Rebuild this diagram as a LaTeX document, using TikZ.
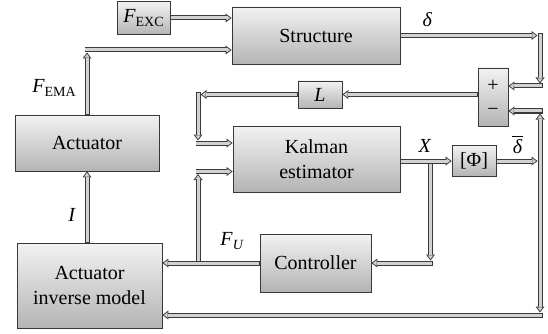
\documentclass[tikz,border=0pt]{standalone}
\usepackage{fontspec}
\setmainfont{Liberation Serif}
\usetikzlibrary{arrows.meta}
\definecolor{boxtop}{HTML}{F2F2F2}
\definecolor{boxbot}{HTML}{B4B4B4}
\definecolor{boxline}{HTML}{383838}
\definecolor{arrdark}{HTML}{3A3A3A}
\definecolor{arrlight}{HTML}{D2D2D2}
\newcommand\lowsub[1]{\raisebox{-0.4ex}{\fontsize{14}{14}\selectfont #1}}
\newcommand\barred[1]{\setbox0\hbox{#1}\rlap{\hspace{-1pt}\raisebox{\dimexpr\ht0+2.5pt\relax}{\rule{\dimexpr\wd0+2pt\relax}{1.1pt}}}\box0}
\tikzset{
  blk/.style={draw=boxline, line width=0.8pt, top color=boxtop, bottom color=boxbot,
    inner sep=0pt, align=center, font=\fontsize{20}{25}\selectfont},
  lbl/.style={inner sep=0pt, font=\fontsize{20}{25}\selectfont},
  conn/.style n args={2}{line width=5pt, draw=arrdark,
    -{Triangle[length=6pt,width=9pt,line width=0pt]}, shorten >=#1, shorten <=#2,
    postaction={draw=arrlight, line width=3pt,
      -{Triangle[length=3.6pt,width=5.4pt,line width=0pt]},
      shorten >=#1+1.5pt, shorten <=#2+0.9pt}},
  link/.style={conn={0pt}{0pt}},
  tocorner/.style={conn={2.5pt}{0pt}},
  fromcorner/.style={conn={0pt}{-2.5pt}},
  via/.style={conn={2.5pt}{-2.5pt}},
  seg/.style={line width=5pt, draw=arrdark, postaction={draw=arrlight, line width=3pt}},
}
\begin{document}
\begin{tikzpicture}[x=1pt,y=-1pt]
\useasboundingbox (0,0) rectangle (548,334);
% blocks
\node[blk, minimum width=53pt, minimum height=33pt] (fexc) at (143.5,18) {\textit{F}\lowsub{EXC}};
\node[blk, minimum width=168pt, minimum height=57pt] (structure) at (316,35.5) {Structure};
\node[blk, minimum width=144pt, minimum height=56pt] (actuator) at (87,143) {Actuator};
\node[blk, minimum width=145pt, minimum height=85pt] (inv) at (89.5,285.5) {Actuator\\inverse model};
\node[blk, minimum width=111pt, minimum height=58pt] (controller) at (315.5,263) {Controller};
\node[blk, minimum width=167pt, minimum height=66pt] (kalman) at (316.5,159) {Kalman\\estimator};
\node[blk, minimum width=44pt, minimum height=27pt] (L) at (320,94.5) {\textit{L}};
\node[blk, minimum width=30pt, minimum height=58pt] (sum) at (493,97) {};
\node[lbl] (plus) at (493,86) {+};
\node[lbl] (minus) at (493,112) {−};
\node[blk, minimum width=44pt, minimum height=31pt] (phi) at (474,161) {[Φ]};
% labels
\node[lbl] (lfema) at (54,88) {\textit{F}\lowsub{EMA}};
\node[lbl] (li) at (72,215) {\textit{I}};
\node[lbl] (ldelta) at (427.5,20) {\textit{δ}};
\node[lbl] (lx) at (425,146) {\textit{X}};
\node[lbl] (ldbar) at (517.5,145) {\barred{\itshape δ}};
\node[lbl] (lfu) at (232,241) {\textit{F}\lowsub{\textit{U}}};
% corners
\coordinate (c1) at (87,50);
\coordinate (c2) at (540,35.5);
\coordinate (c3) at (540,86);
\coordinate (c4) at (540,111);
\coordinate (j) at (540,161);
\coordinate (c9) at (540,315);
\coordinate (c5) at (198,94.5);
\coordinate (c6) at (198,143);
\coordinate (j2) at (198,263);
\coordinate (c7) at (198,171.5);
\coordinate (j3) at (430.5,161);
\coordinate (c8) at (430.5,263);
% connectors
\draw[link] (fexc.east) -- (fexc.east -| structure.west);
\draw[tocorner] (actuator.north) -- (c1);
\draw[fromcorner] (c1) -- (c1 -| structure.west);
\draw[link] (inv.north -| actuator.north) -- (actuator.south);
\draw[tocorner] (structure.east) -- (c2);
\draw[via] (c2) -- (c3);
\draw[fromcorner] (c3) -- (c3 -| sum.east);
\draw[tocorner] (j) -- (c4);
\draw[tocorner] (j) -- (c9);
\draw[seg] ([yshift=6pt]j) -- ([yshift=-6pt]j);
\draw[fromcorner] (c4) -- (c4 -| sum.east);
\draw[fromcorner] (c9) -- (c9 -| inv.east);
\draw[tocorner] (phi.east) -- (j);
\draw[link] (sum.west |- L.east) -- (L.east);
\draw[tocorner] (L.west) -- (c5);
\draw[via] (c5) -- (c6);
\draw[fromcorner] (c6) -- (c6 -| kalman.west);
\draw[tocorner] (j2) -- (c7);
\draw[fromcorner] (c7) -- (c7 -| kalman.west);
\draw[tocorner] (j3) -- (c8);
\draw[fromcorner] (c8) -- (c8 -| controller.east);
\draw[link] (phi.west -| kalman.east) -- (phi.west);
\draw[link] (controller.west) -- (controller.west -| inv.east);
\end{tikzpicture}
\end{document}
